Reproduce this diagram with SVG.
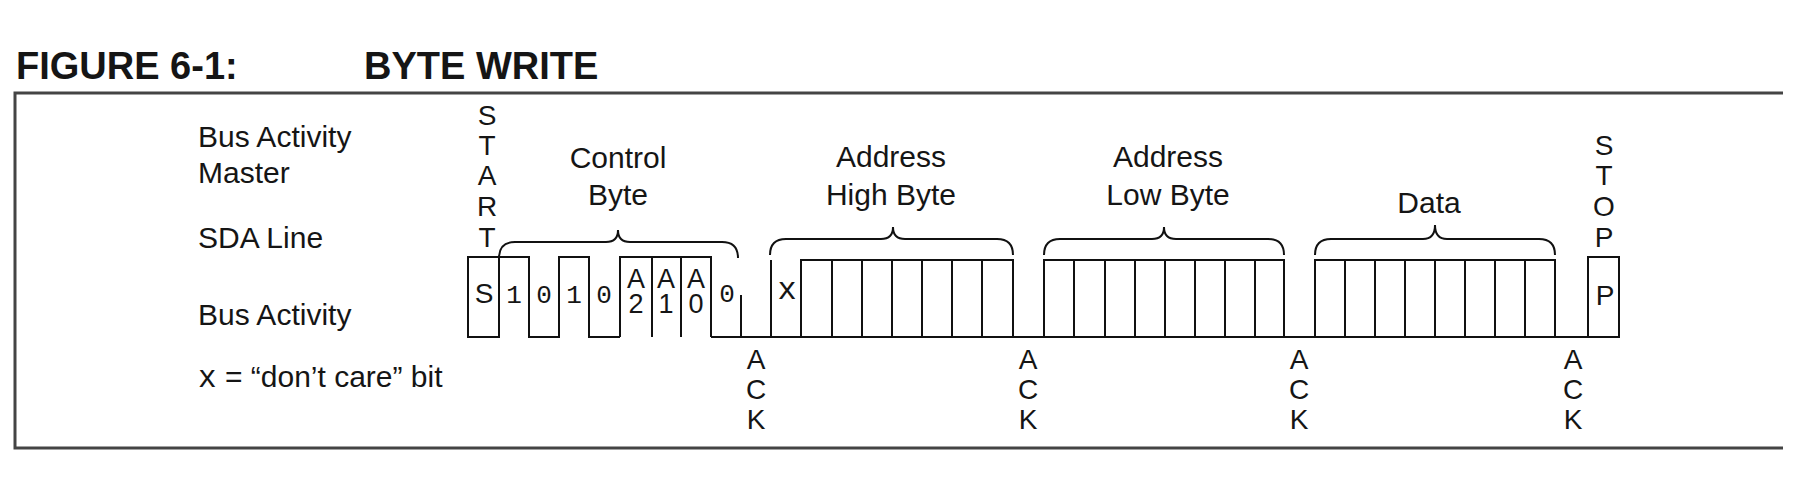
<svg xmlns="http://www.w3.org/2000/svg" width="1800" height="492" viewBox="0 0 1800 492">
<style>
  .t { font-family: "Liberation Sans", Arial, sans-serif; fill: #151515; }
  .lbl { font-size: 30px; }
  .big { font-size: 28px; }
  .ab { font-size: 27px; }
  .title { font-size: 38px; font-weight: bold; }
  .mono { font-family: "Liberation Mono", "Courier New", monospace; fill: #151515; }
  .w { fill: none; stroke: #111; stroke-width: 2; stroke-linejoin: miter; }
  .br { fill: none; stroke: #111; stroke-width: 2; }
  .frame { fill: none; stroke: #444; stroke-width: 3; }
</style>
<rect width="1800" height="492" fill="#fff"/>

<g id="title">
  <text class="t title" x="16" y="79">FIGURE 6-1:</text>
  <text class="t title" x="364" y="79">BYTE WRITE</text>
</g>

<g id="frame">
  <path class="frame" d="M1783,93 H15 V448 H1783"/>
</g>

<g id="row-labels">
  <text class="t lbl" x="198" y="147">Bus Activity</text>
  <text class="t lbl" x="198" y="183">Master</text>
  <text class="t lbl" x="198" y="248">SDA Line</text>
  <text class="t lbl" x="198" y="325">Bus Activity</text>
  <text class="t lbl" x="198" y="387"><tspan class="mono" font-size="31">x</tspan> = “don’t care” bit</text>
</g>

<g id="start">
  <g class="t big" text-anchor="middle">
    <text x="487" y="125">S</text>
    <text x="487" y="155">T</text>
    <text x="487" y="185">A</text>
    <text x="487" y="216">R</text>
    <text x="487" y="247">T</text>
  </g>
  <rect class="w" x="468" y="257" width="31" height="80"/>
  <text class="t big" x="484" y="303" text-anchor="middle">S</text>
</g>

<g id="control-byte">
  <path class="w" d="M499,257 H529 V337 H559 V257 H589 V337 H620"/>
  <path class="w" d="M620,337 V257 H711 V337 M652,257 V337 M681,257 V337"/>
  <path class="w" d="M711,337 H771 M741,295 V337"/>
  <g class="mono" font-size="26" text-anchor="middle">
    <text x="514" y="303">1</text>
    <text x="544" y="303">0</text>
    <text x="574" y="303">1</text>
    <text x="604" y="303">0</text>
    <text x="727" y="302">0</text>
  </g>
  <text class="t ab" text-anchor="middle"><tspan x="636" y="288">A</tspan><tspan x="636" y="313">2</tspan></text>
  <text class="t ab" text-anchor="middle"><tspan x="666" y="288">A</tspan><tspan x="666" y="313">1</tspan></text>
  <text class="t ab" text-anchor="middle"><tspan x="696" y="288">A</tspan><tspan x="696" y="313">0</tspan></text>
  <g class="t lbl" text-anchor="middle">
    <text x="618" y="168">Control</text>
    <text x="618" y="205">Byte</text>
  </g>
</g>

<g id="address-high-byte">
  <path class="w" d="M771,260 V337 H801"/>
  <text class="mono" font-size="32" x="787" y="299" text-anchor="middle">x</text>
  <path class="w" d="M801,337 V260 H1013 V337 H1044 M832,260 V337 M862,260 V337 M892,260 V337 M922,260 V337 M952,260 V337 M982,260 V337 M801,337 H1013"/>
  <g class="t lbl" text-anchor="middle">
    <text x="891" y="167">Address</text>
    <text x="891" y="205">High Byte</text>
  </g>
</g>

<g id="address-low-byte">
  <path class="w" d="M1044,337 V260 H1284 V337 H1315 M1074,260 V337 M1105,260 V337 M1135,260 V337 M1165,260 V337 M1195,260 V337 M1225,260 V337 M1255,260 V337 M1044,337 H1284"/>
  <g class="t lbl" text-anchor="middle">
    <text x="1168" y="167">Address</text>
    <text x="1168" y="205">Low Byte</text>
  </g>
</g>

<g id="data">
  <path class="w" d="M1315,337 V260 H1555 V337 H1588 M1345,260 V337 M1375,260 V337 M1405,260 V337 M1435,260 V337 M1465,260 V337 M1495,260 V337 M1525,260 V337 M1315,337 H1555"/>
  <text class="t lbl" x="1429" y="213" text-anchor="middle">Data</text>
</g>

<g id="stop">
  <g class="t big" text-anchor="middle">
    <text x="1604" y="155">S</text>
    <text x="1604" y="185">T</text>
    <text x="1604" y="216">O</text>
    <text x="1604" y="247">P</text>
  </g>
  <rect class="w" x="1588" y="257" width="31" height="80"/>
  <text class="t big" x="1605" y="305" text-anchor="middle">P</text>
</g>

<g id="acks" class="t big" text-anchor="middle">
  <text x="756" y="369">A</text><text x="756" y="399">C</text><text x="756" y="429">K</text>
  <text x="1028" y="369">A</text><text x="1028" y="399">C</text><text x="1028" y="429">K</text>
  <text x="1299" y="369">A</text><text x="1299" y="399">C</text><text x="1299" y="429">K</text>
  <text x="1573" y="369">A</text><text x="1573" y="399">C</text><text x="1573" y="429">K</text>
</g>

<g id="connectors">
  <path class="br" d="M499,258 Q499,242 515,242 H606 Q618,242 618,230 Q618,242 630,242 H722 Q738,242 738,258"/>
  <path class="br" d="M770,255 Q770,239 786,239 H881 Q893,239 893,227 Q893,239 905,239 H997 Q1013,239 1013,255"/>
  <path class="br" d="M1044,255 Q1044,239 1060,239 H1152 Q1164,239 1164,227 Q1164,239 1176,239 H1268 Q1284,239 1284,255"/>
  <path class="br" d="M1315,255 Q1315,239 1331,239 H1423 Q1435,239 1435,225 Q1435,239 1447,239 H1539 Q1555,239 1555,255"/>
</g>
</svg>
